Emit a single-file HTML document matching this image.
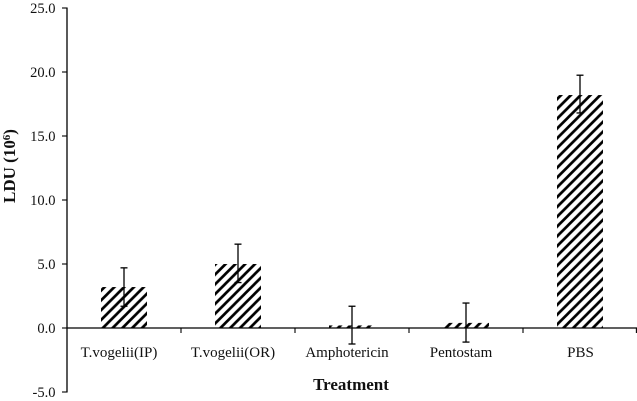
<!DOCTYPE html>
<html>
<head>
<meta charset="utf-8">
<style>
html,body{margin:0;padding:0;background:#fff;width:637px;height:401px;overflow:hidden}
svg{display:block}
text{font-family:"Liberation Serif",serif;fill:#111}
</style>
</head>
<body>
<svg id="chart" width="637" height="401" viewBox="0 0 637 401">
<defs>
<pattern id="hatch" width="9.8" height="9.8" patternUnits="userSpaceOnUse" patternTransform="translate(9.4 0)">
<path d="M-2 2L2 -2M-2 11.8L11.8 -2M7.8 11.8L11.8 7.8" stroke="#000" stroke-width="2.7" fill="none"/>
</pattern>
</defs>
<g id="bars"></g>
<g id="errors"></g>
<g id="axes"></g>
<text x="351" y="390" text-anchor="middle" font-size="17" font-weight="bold">Treatment</text>
<text transform="translate(15 166) rotate(-90)" text-anchor="middle" font-size="17" font-weight="bold">LDU (10<tspan font-size="11" dy="-5">6</tspan><tspan dy="5">)</tspan></text>
</svg>
<script>
const categories = ['T.vogelii(IP)', 'T.vogelii(OR)', 'Amphotericin', 'Pentostam', 'PBS'];
const ldu = [3.2, 5.0, 0.2, 0.4, 18.2];
const errorHigh = [4.7, 6.55, 1.7, 1.95, 19.75];
const errorLow = [1.7, 3.55, -1.25, -1.1, 16.8];
const yTicks = [25, 20, 15, 10, 5, 0, -5];

const NS = 'http://www.w3.org/2000/svg';
const left = 67, bandWidth = 114, barWidth = 46;
const y = v => 328 - v * 12.8;
const x = i => left + bandWidth * (i + 0.5);
// Labels sit slightly left of their bars, except the short last one.
const labelX = i => x(i) + (i === categories.length - 1 ? 0.5 : -5);

function make(tag, attrs, parent) {
  const el = document.createElementNS(NS, tag);
  for (const k in attrs) el.setAttribute(k, attrs[k]);
  parent.appendChild(el);
  return el;
}
function seg(parent, x1, y1, x2, y2, w) {
  return make('line', { x1, y1, x2, y2, stroke: '#000', 'stroke-width': w }, parent);
}

const barsG = document.getElementById('bars');
const errG = document.getElementById('errors');
const axesG = document.getElementById('axes');

categories.forEach((c, i) => {
  const bar = make('rect', {
    x: x(i) - barWidth / 2,
    y: y(ldu[i]),
    width: barWidth,
    height: Math.abs(y(0) - y(ldu[i])),
    fill: 'url(#hatch)'
  }, barsG);
  
  

  const g = make('g', {}, errG);
  
  
  seg(g, x(i), y(errorHigh[i]), x(i), y(errorLow[i]), 1.3);
  seg(g, x(i) - 3.5, y(errorHigh[i]), x(i) + 3.5, y(errorHigh[i]), 1.3);
  seg(g, x(i) - 3.5, y(errorLow[i]), x(i) + 3.5, y(errorLow[i]), 1.3);

  const label = make('text', { x: labelX(i), y: 357, 'text-anchor': 'middle', 'font-size': 15 }, axesG);
  label.textContent = c;
  
  
});

const yAxis = seg(axesG, left, y(25) - 0.5, left, y(-5) + 0.5, 1.3);


const xAxis = seg(axesG, left, y(0), 637, y(0), 1.3);



yTicks.forEach(t => {
  seg(axesG, left - 5, y(t), left, y(t), 1.1);
  const label = make('text', { x: 55.5, y: y(t) + 5, 'text-anchor': 'end', 'font-size': 14.5 }, axesG);
  label.textContent = t.toFixed(1);
  
  
});
categories.forEach((c, i) => {
  const tx = Math.min(left + bandWidth * (i + 1), 636.4);
  seg(axesG, tx, y(0), tx, y(0) + 5, 1.1);
});
</script>
</body>
</html>
